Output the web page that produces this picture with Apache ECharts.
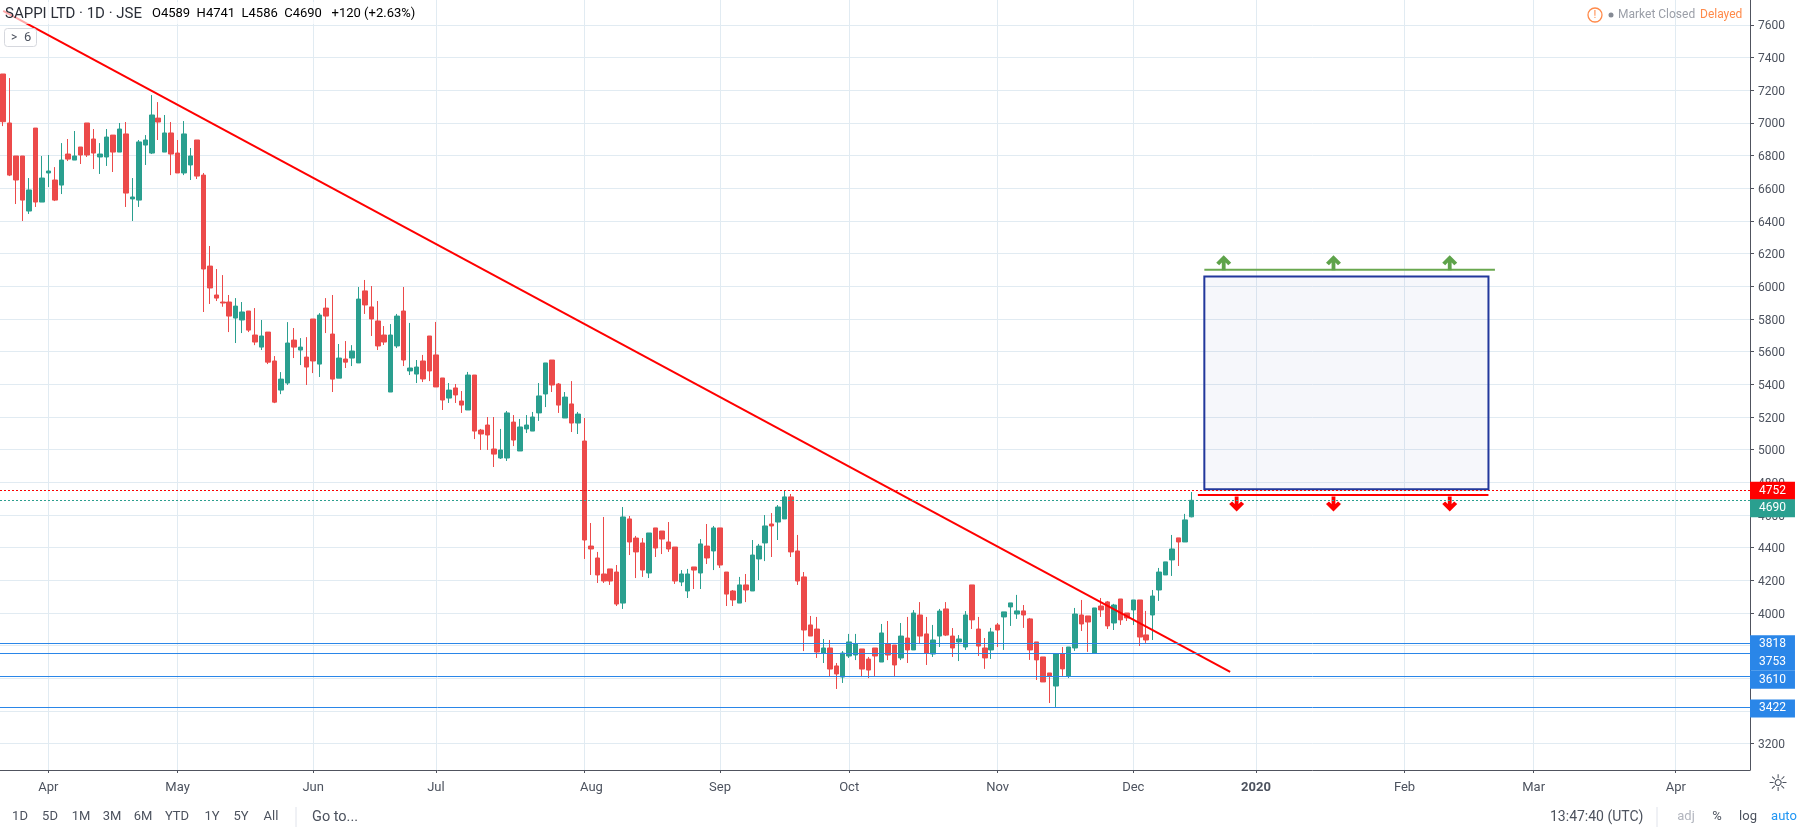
<!DOCTYPE html>
<html>
<head>
<meta charset="utf-8">
<style>html,body{margin:0;padding:0;background:#fff}#c{width:1807px;height:831px}</style>
<script src="https://cdn.jsdelivr.net/npm/echarts@6/dist/echarts.min.js"></script>
</head>
<body>
<div id="c"></div>
<script>
const opens = [7300,7000,6798,6798,6461,6969,6516,6694,6651,6620,6810,6773,6853,7000,6902,6792,6792,6926,6822,6933,6535,6528,6865,6816,7030,6822,6939,6816,6694,6743,6896,6681,6124,5947,5904,5904,5806,5794,5849,5702,5628,5720,5543,5365,5408,5671,5610,5567,5800,5524,5867,5708,5438,5555,5561,5531,5972,5874,5788,5702,5353,5635,5849,5482,5463,5543,5696,5580,5439,5316,5378,5298,5243,5457,5120,5151,5004,4949,4949,5169,4992,5127,5114,5225,5341,5549,5402,5194,5280,5163,5053,4410,4337,4239,4270,4251,4061,4576,4459,4429,4245,4521,4502,4435,4404,4190,4135,4282,4245,4410,4380,4521,4251,4135,4061,4172,4135,4331,4429,4545,4557,4576,4711,4380,4221,3927,3902,3755,3786,3676,3608,3737,3743,3780,3718,3786,3700,3810,3804,3725,3847,3774,3988,3872,3749,3859,4025,3859,3823,3792,4172,3902,3786,3774,3927,3976,4037,3994,4013,3964,3823,3731,3633,3553,3749,3615,3786,3988,3982,3755,4043,4068,3939,4086,4000,4019,4080,3866,3988,4141,4233,4325,4460,4435,4589];
const closes = [7008,6681,6651,6528,6590,6516,6663,6706,6528,6773,6779,6798,6804,6804,6816,6810,6914,6822,6963,6571,6547,6884,6896,7049,7006,6939,6810,6694,6933,6798,6675,6106,5990,5928,5898,5818,5879,5843,5732,5659,5696,5536,5291,5432,5653,5628,5628,5506,5543,5824,5818,5432,5561,5536,5604,5922,5886,5800,5635,5659,5702,5818,5549,5500,5506,5433,5482,5384,5304,5365,5335,5273,5457,5114,5096,5090,4973,4998,5225,5059,5139,5151,5200,5329,5531,5396,5273,5322,5163,5218,4447,4392,4233,4196,4196,4055,4588,4435,4374,4263,4490,4398,4453,4392,4196,4239,4239,4263,4423,4337,4521,4294,4116,4080,4172,4141,4355,4410,4533,4533,4649,4711,4374,4196,3896,3859,3761,3786,3657,3627,3755,3823,3812,3657,3651,3737,3878,3743,3682,3859,3774,4000,3859,3755,3835,4012,3865,3786,3841,3988,3958,3798,3725,3884,3896,4007,4062,4013,3988,3774,3713,3578,3615,3749,3658,3792,3994,3933,3945,4031,4019,3921,4049,3958,3970,4080,3853,3835,4104,4251,4313,4392,4435,4570,4690];
const highs = [7300,7275,6798,6798,6663,6969,6798,6804,6730,6877,6902,6951,6853,7000,6963,6877,6963,6926,7000,7006,6663,6896,6926,7171,7128,7049,7006,6896,7012,6847,6896,6694,6247,6106,6069,5947,5928,5904,5849,5867,5794,5720,5573,5475,5781,5745,5683,5689,5800,5836,5928,5947,5647,5665,5640,5996,6039,6002,5910,5757,5769,5831,5996,5776,5549,5580,5696,5782,5439,5408,5402,5359,5476,5457,5127,5200,5200,5127,5237,5212,5188,5212,5231,5408,5531,5549,5408,5353,5420,5231,5194,4551,4374,4588,4270,4294,4649,4594,4472,4459,4490,4521,4502,4557,4404,4263,4270,4282,4453,4545,4533,4521,4251,4141,4221,4239,4447,4423,4600,4612,4661,4753,4729,4478,4251,3982,3976,3841,3835,3694,3767,3872,3872,3780,3731,3786,3933,3951,3804,3939,3976,4018,4067,3976,3927,4025,4067,3908,3865,4012,4172,3976,3847,3909,3939,4007,4062,4111,4049,3970,3823,3731,3633,3749,3792,3792,4031,4080,3982,4031,4092,4074,4056,4086,4000,4080,4080,4013,4141,4276,4313,4478,4460,4607,4741];
const lows = [6981,6675,6504,6400,6443,6486,6516,6608,6522,6565,6767,6773,6749,6792,6718,6688,6737,6700,6822,6486,6400,6486,6743,6810,6896,6822,6681,6694,6681,6651,6657,5843,5892,5910,5875,5720,5653,5714,5720,5640,5610,5524,5285,5340,5396,5561,5518,5396,5469,5445,5714,5353,5438,5500,5512,5531,5831,5696,5610,5641,5353,5622,5512,5457,5408,5414,5420,5384,5243,5286,5286,5225,5243,5065,4998,4998,4894,4943,4931,5022,4992,5102,5114,5176,5261,5353,5225,5194,5108,5096,4331,4233,4184,4184,4172,4043,4025,4355,4214,4221,4214,4343,4361,4374,4178,4165,4092,4147,4147,4300,4263,4276,4043,4043,4061,4067,4135,4202,4318,4343,4447,4576,4343,4172,3767,3859,3725,3694,3614,3535,3572,3725,3712,3608,3602,3614,3700,3712,3608,3712,3694,3774,3810,3682,3731,3792,3859,3731,3706,3774,3902,3737,3658,3719,3792,3774,3921,3964,3909,3713,3590,3578,3449,3425,3615,3602,3768,3890,3762,3755,3976,3902,3896,3927,3951,3927,3798,3817,3835,4074,4233,4227,4288,4435,4586];

const BAR_SLOTS = 271;
const tickIndex = [7,27,48,67,90,111,131,154,175,194,217,237,259];
const tickLabels = ['Apr','May','Jun','Jul','Aug','Sep','Oct','Nov','Dec','2020','Feb','Mar','Apr'];
const priceTicks = [3200,3400,3600,3800,4000,4200,4400,4600,4800,5000,5200,5400,5600,5800,6000,6200,6400,6600,6800,7000,7200,7400,7600];
const supportLevels = [3818,3753,3610,3422];
const supportOffsets = [1.5,8.5,3,1];
const lastClose = 4690, alertLevel = 4752;
const trendX = [0,190], trendY = [7687,3639];
const targetBox = {x0:186,x1:230,top:6061,bottom:4758};
const upperLine = {x0:186,x1:231,y:6102};
const lowerLine = {x0:185,x1:230,y:4722};
const upArrowX = [189,206,224], upArrowY = 6145;
const downArrowX = [191,206,224], downArrowY = 4668;

const titleText = 'SAPPI LTD · 1D · JSE';
const ohlc = [['O','4589'],['H','4741'],['L','4586'],['C','4690']];
const change = '+120 (+2.63%)';
const rangeButtons = [['1D',20],['5D',50],['1M',81],['3M',112],['6M',143],['YTD',177],['1Y',212],['5Y',241],['All',271]];

const UP='#2a9f8f', DOWN='#ec4a4a', GRID='#e1ebf2', AXIS='#50535e', TXT='#4c525e', FONT='Roboto, "Noto Sans", sans-serif';
const categories = Array.from({length:BAR_SLOTS},(_,i)=>'b'+i);
const candleData = opens.map((o,i)=>[o,closes[i],lows[i],highs[i]]);
const isTick = i => tickIndex.indexOf(i)>=0;

const chart = echarts.init(document.getElementById('c'),null,{renderer:'canvas',width:1807,height:831});

function levelLine(v,color,dy,type){
  return {yAxis:v,lineStyle:{color:color,width:1,type:type||'solid'},
    label:{show:true,position:'end',distance:0,formatter:String(v),color:'#fff',backgroundColor:color,
      fontFamily:FONT,fontSize:12,padding:[3,9,3,9],lineHeight:12,offset:[0,dy]}};
}
const txt=(x,y,text,fill,size,extra)=>({type:'text',x:x,y:y,z:20,style:Object.assign({text:text,fill:fill,font:(size||12)+'px '+FONT,textVerticalAlign:'middle'},extra||{})});

const rich={g:{color:'#6a6f7c',fontFamily:FONT,fontSize:13},t:{color:'#2ea394',fontFamily:FONT,fontSize:13}};
const ohlcText=ohlc.map(p=>`{g|${p[0]}}{t|${p[1]}}`).join('{g|  }')+'{g|   }{t|'+change+'}';

const graphics=[
  {type:'rect',z:15,shape:{x:0,y:2,width:425,height:22},style:{fill:'rgba(255,255,255,0.65)'}},
  {type:'rect',z:16,shape:{x:4.5,y:28.5,width:32,height:18,r:3},style:{fill:'#fff',stroke:'#d6d8de',lineWidth:1}},
  txt(11,37.5,'>',TXT,12),
  txt(24,37.5,'6',TXT,13),
  txt(5,14,titleText,'#2b2f38',15),
  {type:'text',x:152,y:14,z:20,style:{text:ohlcText,rich:rich,textVerticalAlign:'middle'}},
  {type:'circle',z:20,shape:{cx:1595,cy:15,r:7},style:{fill:'#fff',stroke:'#ff8a4a',lineWidth:1.3}},
  txt(1595,15,'!','#ff8a4a',11,{textAlign:'center'}),
  {type:'circle',z:20,shape:{cx:1611,cy:15,r:2.5},style:{fill:'#858a94'}},
  txt(1618,15,'Market Closed','#9b9fa8',12),
  txt(1700,15,'Delayed','#ff8a4a',12),
  txt(1778,785,'☼',TXT,22,{textAlign:'center',font:'23px "DejaVu Sans"'}),
  {type:'line',z:20,shape:{x1:296,y1:807,x2:296,y2:827},style:{stroke:'#e0e3eb',lineWidth:1}},
  {type:'line',z:20,shape:{x1:1657,y1:807,x2:1657,y2:827},style:{stroke:'#e0e3eb',lineWidth:1}},
  txt(312,817,'Go to...',TXT,14.5),
  txt(1550,817,'13:47:40 (UTC)',TXT,14),
  txt(1686,817,'adj','#b2b5be',13,{textAlign:'center'}),
  txt(1717,817,'%',TXT,13,{textAlign:'center'}),
  txt(1748,817,'log',TXT,13,{textAlign:'center'}),
  txt(1784,817,'auto','#2196f3',13,{textAlign:'center'})
].concat(rangeButtons.map(b=>txt(b[1],817,b[0],TXT,13,{textAlign:'center'})));

const arrowPath='path://M7.5 0 L15 7.5 L12 10 L9.4 7.4 L9.4 15 L5.6 15 L5.6 7.4 L3 10 L0 7.5 Z';

chart.setOption({
  animation:false,
  backgroundColor:'#fff',
  grid:{left:-2.4,right:57,top:0,bottom:61,containLabel:false},
  xAxis:{
    type:'category',data:categories,boundaryGap:true,
    axisLine:{onZero:false,lineStyle:{color:AXIS,width:1}},
    axisTick:{show:true,length:3,alignWithLabel:true,interval:(i)=>isTick(i),lineStyle:{color:AXIS}},
    axisLabel:{interval:(i)=>isTick(i),margin:11,color:TXT,fontFamily:FONT,fontSize:13,
      formatter:(v,i)=>{const l=tickLabels[tickIndex.indexOf(i)];return l==='2020'?'{y|2020}':(l==='Aug'?'{a|Aug}':l);},
      rich:{y:{fontWeight:'bold',color:TXT,fontFamily:FONT,fontSize:13},a:{color:TXT,fontFamily:FONT,fontSize:13,padding:[0,0,0,14]}}},
    splitLine:{show:true,alignWithLabel:true,interval:(i)=>isTick(i),lineStyle:{color:GRID,width:1}}
  },
  yAxis:{
    type:'value',position:'right',min:3039,max:7753,scale:true,
    axisLine:{show:true,onZero:false,lineStyle:{color:AXIS,width:1}},
    axisTick:{show:true,length:4,customValues:priceTicks,lineStyle:{color:AXIS}},
    axisLabel:{customValues:priceTicks,margin:8,color:TXT,fontFamily:FONT,fontSize:12,formatter:v=>'{p|'+v+'}',showMinLabel:true,showMaxLabel:true,
      rich:{p:{color:TXT,fontFamily:FONT,fontSize:12,padding:[3,0,0,0]}}},
    splitLine:{show:true,lineStyle:{color:GRID,width:1}}
  },
  series:[
    {type:'candlestick',name:'SAPPI LTD',data:candleData,barWidth:5,clip:false,
     itemStyle:{color:UP,color0:DOWN,borderColor:UP,borderColor0:DOWN,borderWidth:1},
     markLine:{silent:true,symbol:'none',animation:false,precision:0,
       data:supportLevels.map((v,i)=>levelLine(v,'#2a86e8',supportOffsets[i]))
         .concat([levelLine(alertLevel,'#ff0000',0.5,[2,2]),levelLine(lastClose,UP,8,[2,2])])},
     markArea:{silent:true,itemStyle:{color:'rgba(45,65,165,0.045)',borderColor:'#22389c',borderWidth:2},
       data:[[{xAxis:targetBox.x0,yAxis:targetBox.top},{xAxis:targetBox.x1,yAxis:targetBox.bottom}]]}
    },
    {type:'line',name:'Trend',data:trendX.map((x,i)=>[x,trendY[i]]),symbol:'none',showSymbol:false,z:4,
     lineStyle:{color:'#ff0000',width:2}},
    {type:'line',name:'Upper',data:[[upperLine.x0,upperLine.y],[upperLine.x1,upperLine.y]],symbol:'none',showSymbol:false,z:4,
     lineStyle:{color:'#6aa84f',width:2}},
    {type:'line',name:'Lower',data:[[lowerLine.x0,lowerLine.y],[lowerLine.x1,lowerLine.y]],symbol:'none',showSymbol:false,z:4,
     lineStyle:{color:'#ff0000',width:2}},
    {type:'scatter',name:'Up arrows',data:upArrowX.map(x=>[x,upArrowY]),symbol:arrowPath,symbolSize:[15,15],z:4,
     itemStyle:{color:'#5ea34a',opacity:1}},
    {type:'scatter',name:'Down arrows',data:downArrowX.map(x=>[x,downArrowY]),symbol:arrowPath,symbolSize:[15,15],symbolRotate:180,z:4,
     itemStyle:{color:'#ff0000',opacity:1}}
  ],
  graphic:graphics
});
</script>
</body>
</html>
